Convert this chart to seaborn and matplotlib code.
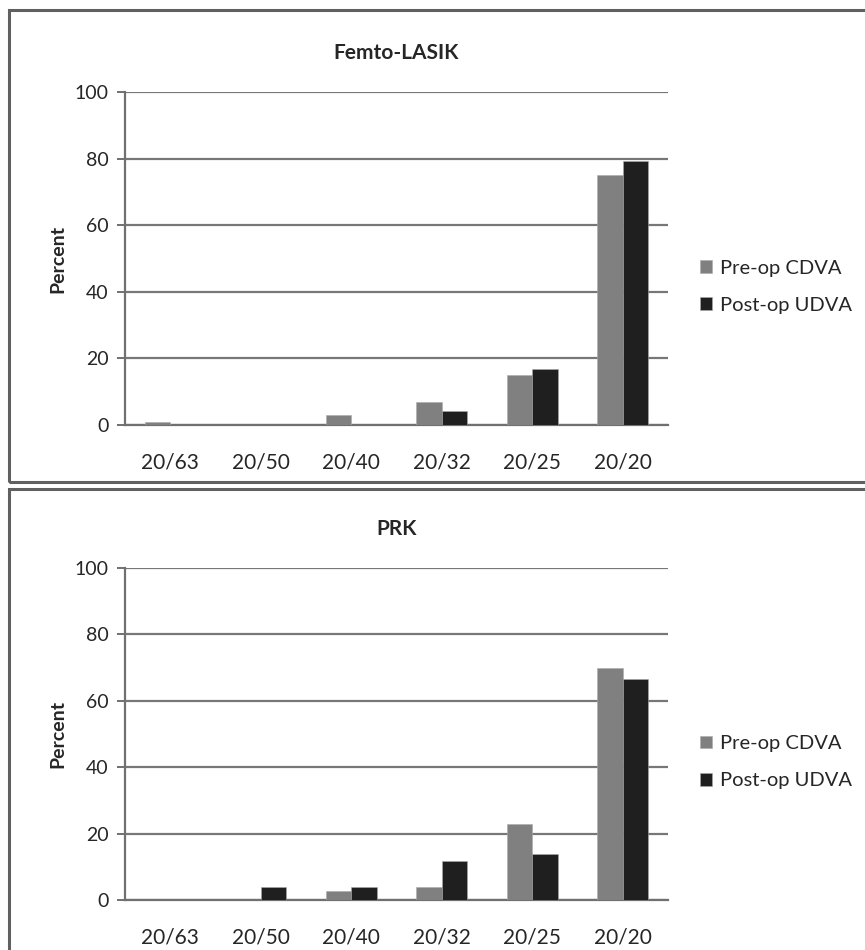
import numpy as np
import pandas as pd
import seaborn as sns
from matplotlib import pyplot as plt
from matplotlib.patches import Rectangle

# visual acuity categories (Snellen)
acuity = ["20/63", "20/50", "20/40", "20/32", "20/25", "20/20"]
series = ["Pre-op CDVA", "Post-op UDVA"]

# Femto-LASIK, percent of eyes
lasik_pre = [1.0, 0.0, 3.0, 7.0, 15.0, 75.0]
lasik_post = [0.0, 0.0, 0.0, 4.2, 16.7, 79.2]

# PRK, percent of eyes
prk_pre = [0.0, 0.0, 2.7, 3.8, 23.0, 70.0]
prk_post = [0.0, 3.8, 3.8, 11.7, 13.8, 66.7]

panels = [("Femto-LASIK", lasik_pre, lasik_post),
          ("PRK", prk_pre, prk_post)]

sns.set_style("white")
plt.rcParams['font.family'] = ['Lato', 'DejaVu Sans']

fig = plt.figure(figsize=(8.65, 9.5), dpi=100)
W, H = 865.0, 950.0

# frame around each panel (right / bottom edges run off the image)
fig.patches.append(Rectangle((9 / W, 1 - 482 / H), 870 / W, 472 / H, transform=fig.transFigure,
                             fill=False, ec="#606060", lw=2.2, clip_on=False))
fig.patches.append(Rectangle((9 / W, -0.02), 870 / W, 1.02 - 489 / H, transform=fig.transFigure,
                             fill=False, ec="#606060", lw=2.2, clip_on=False))

palette = {"Pre-op CDVA": "#808080", "Post-op UDVA": "#1f1f1f"}
axes_pos = [(425, 92), (900, 568)]  # pixel y of 0 and 100 lines

for (title, pre, post), (y0, y100) in zip(panels, axes_pos):
    df = pd.DataFrame({
        "acuity": acuity * 2,
        "series": [series[0]] * len(acuity) + [series[1]] * len(acuity),
        "percent": pre + post,
    })
    ax = fig.add_axes([125 / W, 1 - y0 / H, 543 / W, (y0 - y100) / H])
    sns.barplot(data=df, x="acuity", y="percent", hue="series", order=acuity,
                hue_order=series, palette=palette, width=0.56, saturation=1,
                edgecolor="#aaaaaa", linewidth=0.4, ax=ax, zorder=3)
    ax.set_ylim(0, 100)
    ax.set_xlim(-0.5, len(acuity) - 0.5)
    ax.set_yticks(np.arange(0, 101, 20))
    ax.yaxis.grid(True, color="#777777", lw=1.6, zorder=0)
    ax.set_axisbelow(True)
    for s in ["top", "right"]:
        ax.spines[s].set_visible(False)
    for s in ["left", "bottom"]:
        ax.spines[s].set_color("#707070")
        ax.spines[s].set_linewidth(1.6)
    ax.set_xticks(np.arange(-0.5, len(acuity)), minor=True)
    ax.tick_params(axis="x", which="major", length=0, pad=20, labelsize=15)
    ax.tick_params(axis="x", which="minor", length=6, width=1.4, color="#707070", direction="out")
    ax.tick_params(axis="y", length=6, width=1.4, color="#707070", direction="out",
                   pad=6, labelsize=14, left=True)
    ax.set_xlabel("")
    ax.set_ylabel("Percent", fontsize=14, fontweight="bold", labelpad=6)
    ax.set_title(title, fontsize=15, fontweight="bold", pad=24)
    ax.legend(loc="center left", bbox_to_anchor=(1.025, 0.415), frameon=False, fontsize=14.5,
              handlelength=0.6, handleheight=0.6, handletextpad=0.4, labelspacing=1.0)

fig.savefig("out.png", dpi=100)
